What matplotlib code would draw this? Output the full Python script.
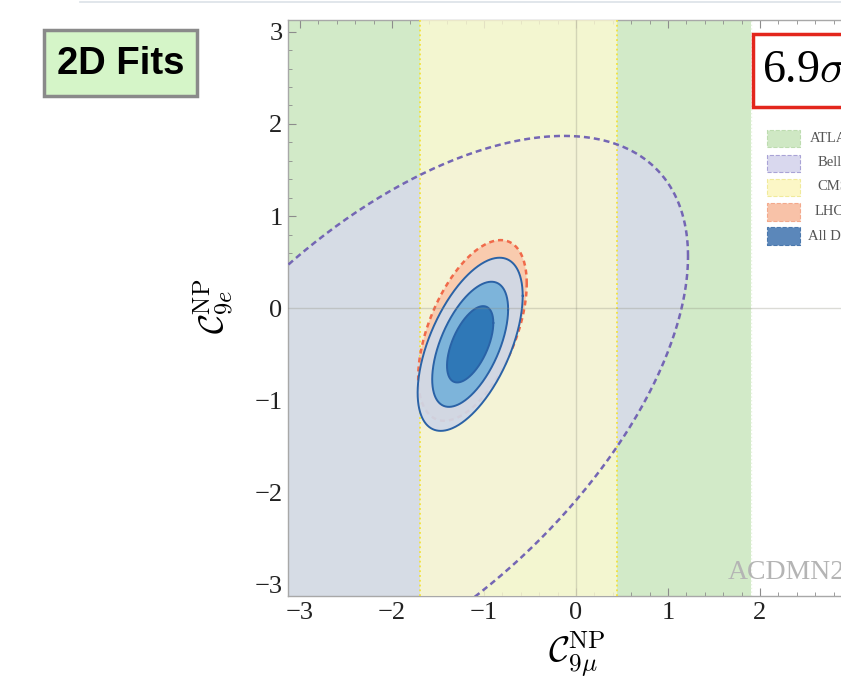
import numpy as np
import matplotlib
matplotlib.use('Agg')
import matplotlib.pyplot as plt
from matplotlib.patches import Rectangle
from matplotlib.lines import Line2D

plt.rcParams['font.family'] = ['Liberation Serif', 'DejaVu Serif']
plt.rcParams['mathtext.fontset'] = 'cm'

# ---------------- data ----------------
xlim = (-3.13, 3.13)
ylim = (-3.12, 3.13)
atlas_band = (-4.0, 1.9)
cms_band = (-1.70, 0.45)

belle_center = (-1.932, -1.178)
belle_half = (3.150, 3.048)
belle_rho = 0.572

lhcb_center = (-1.125, -0.24)
lhcb_half = (0.59, 0.98)
lhcb_rho = 0.52

blue_center = (-1.15, -0.39)
blue_sigma = (0.166, 0.273)
blue_rho = 0.56
blue_levels = [11.83, 6.18, 2.30]
blue_colors = ['#cfd8e7', '#7db4da', '#2f78b7']

tick_values = [-3, -2, -1, 0, 1, 2, 3]
xtick_labels = ['\u22123', '\u22122', '\u22121', '0', '1', '2', '']
ytick_labels = ['\u22123', '\u22122', '\u22121', '0', '1', '2', '3']
legend_labels = ['ATLAS', 'Belle', 'CMS', 'LHCb', 'All Data']
significance = '6.9'


def ellipse_xy(cx, cy, hx, hy, rho, n=500):
    t = np.linspace(0, 2 * np.pi, n)
    return cx + hx * np.cos(t), cy + hy * (rho * np.cos(t) + np.sqrt(1 - rho ** 2) * np.sin(t))


W, H = 841, 685
fig = plt.figure(figsize=(W / 100, H / 100), dpi=100)


def fx(px):
    return px / W


def fy(py):
    return 1 - py / H


ax = fig.add_axes([fx(288), fy(596), (xlim[1] - xlim[0]) * 92 / W, (ylim[1] - ylim[0]) * 92.2 / H])
ax.set_xlim(*xlim)
ax.set_ylim(*ylim)

# ATLAS band
ax.axvspan(atlas_band[0], atlas_band[1], color='#d2eac8', zorder=1, lw=0)
ax.axvline(atlas_band[1], color='#e8f4e0', ls=':', lw=1.0, zorder=1.5)
# Belle
bx, by = ellipse_xy(*belle_center, *belle_half, belle_rho)
ax.fill(bx, by, color='#d6dce5', zorder=2, lw=0)
# CMS
ax.axvspan(cms_band[0], cms_band[1], color='#fdfad3', alpha=0.78, zorder=3, lw=0)
for xv in cms_band:
    ax.axvline(xv, color='#f2e23c', ls=':', lw=1.3, zorder=3.5)
ax.plot(bx, by, color='#7466b4', lw=1.8, ls=(0, (2.4, 1.6)), zorder=4)
# LHCb
lx, ly = ellipse_xy(*lhcb_center, *lhcb_half, lhcb_rho)
ax.fill(lx, ly, color='#f9cbae', zorder=5, lw=0)
ax.plot(lx, ly, color='#f06a4a', lw=1.8, ls=(0, (2.0, 1.6)), zorder=5.5)
# All data
for i, (lev, col) in enumerate(zip(blue_levels, blue_colors)):
    k = np.sqrt(lev)
    ex, ey = ellipse_xy(*blue_center, k * blue_sigma[0], k * blue_sigma[1], blue_rho)
    ax.fill(ex, ey, color=col, zorder=6 + i, lw=0, alpha=0.93 if i == 0 else 1)
    ax.plot(ex, ey, color='#2a62a6', lw=1.4, zorder=6.5 + i)

ax.axhline(0, color='#8a8a7a', lw=1.0, alpha=0.3, zorder=10)
ax.axvline(0, color='#8a8a7a', lw=1.0, alpha=0.3, zorder=10)

fig.text(fx(728), fy(579), 'ACDMN21', color='#b4b4b4', fontsize=20, va='baseline', ha='left')

ax.set_xticks(tick_values)
ax.set_xticklabels(xtick_labels)
ax.set_yticks(tick_values)
ax.set_yticklabels(ytick_labels)
ax.set_xticks(np.arange(-3.0, 3.01, 0.2), minor=True)
ax.set_yticks(np.arange(-3.0, 3.01, 0.2), minor=True)
ax.tick_params(which='both', direction='in', top=True, right=True, color='#8c8c8c', labelsize=19,
               labelcolor='#222222')
ax.tick_params(which='major', length=6, width=0.8, pad=4)
ax.tick_params(which='minor', length=3, width=0.6)
for s in ax.spines.values():
    s.set_color('#a8a8a8')
    s.set_linewidth(1.0)

fig.text(fx(577), fy(654), r'$\mathcal{C}_{9\mu}^{\rm NP}$', fontsize=26, ha='center', va='center')
fig.text(fx(214), fy(306), r'$\mathcal{C}_{9e}^{\rm NP}$', fontsize=25, ha='center', va='center', rotation=90)

# 2D Fits box
fig.patches.append(Rectangle((fx(44), fy(96)), fx(197) - fx(44), fy(30) - fy(96), transform=fig.transFigure,
                             facecolor='#d5f5c8', edgecolor='#8a8a8a', lw=2.5))
fig.text(fx(121), fy(64), '2D Fits', fontsize=27.5, fontweight='bold', family='Liberation Sans',
         ha='center', va='center')

# significance box
fig.patches.append(Rectangle((fx(753), fy(107)), fx(880) - fx(753), fy(34) - fy(107), transform=fig.transFigure,
                             facecolor='white', edgecolor='#e3261c', lw=2.5, zorder=20))
fig.text(fx(762), fy(71), significance + r'$\sigma$', fontsize=33, ha='left', va='center', zorder=21)

# legend
sw_face = ['#cfe8c4', '#d9d8ee', '#fcf7c6', '#f8c2a8', '#5b87ba']
sw_edge = ['#bddcb0', '#a9a3d6', '#f0ea9a', '#f3a98c', '#4a78ad']
sw_y = [138, 163, 187, 212, 236]
for lab, fc, ec, yy in zip(legend_labels, sw_face, sw_edge, sw_y):
    fig.patches.append(Rectangle((fx(767), fy(yy + 8.5)), fx(800) - fx(767), fy(yy - 8.5) - fy(yy + 8.5),
                                 transform=fig.transFigure, facecolor=fc, edgecolor=ec, lw=0.8, ls='--', zorder=20))
    fig.text(fx(833), fy(yy), lab, fontsize=10.5, color='#555555', ha='center', va='center', zorder=21)

fig.add_artist(Line2D([fx(80), 1], [fy(1.5), fy(1.5)], color='#dbe1e8', lw=1.2))

fig.savefig('out.png', dpi=100)
